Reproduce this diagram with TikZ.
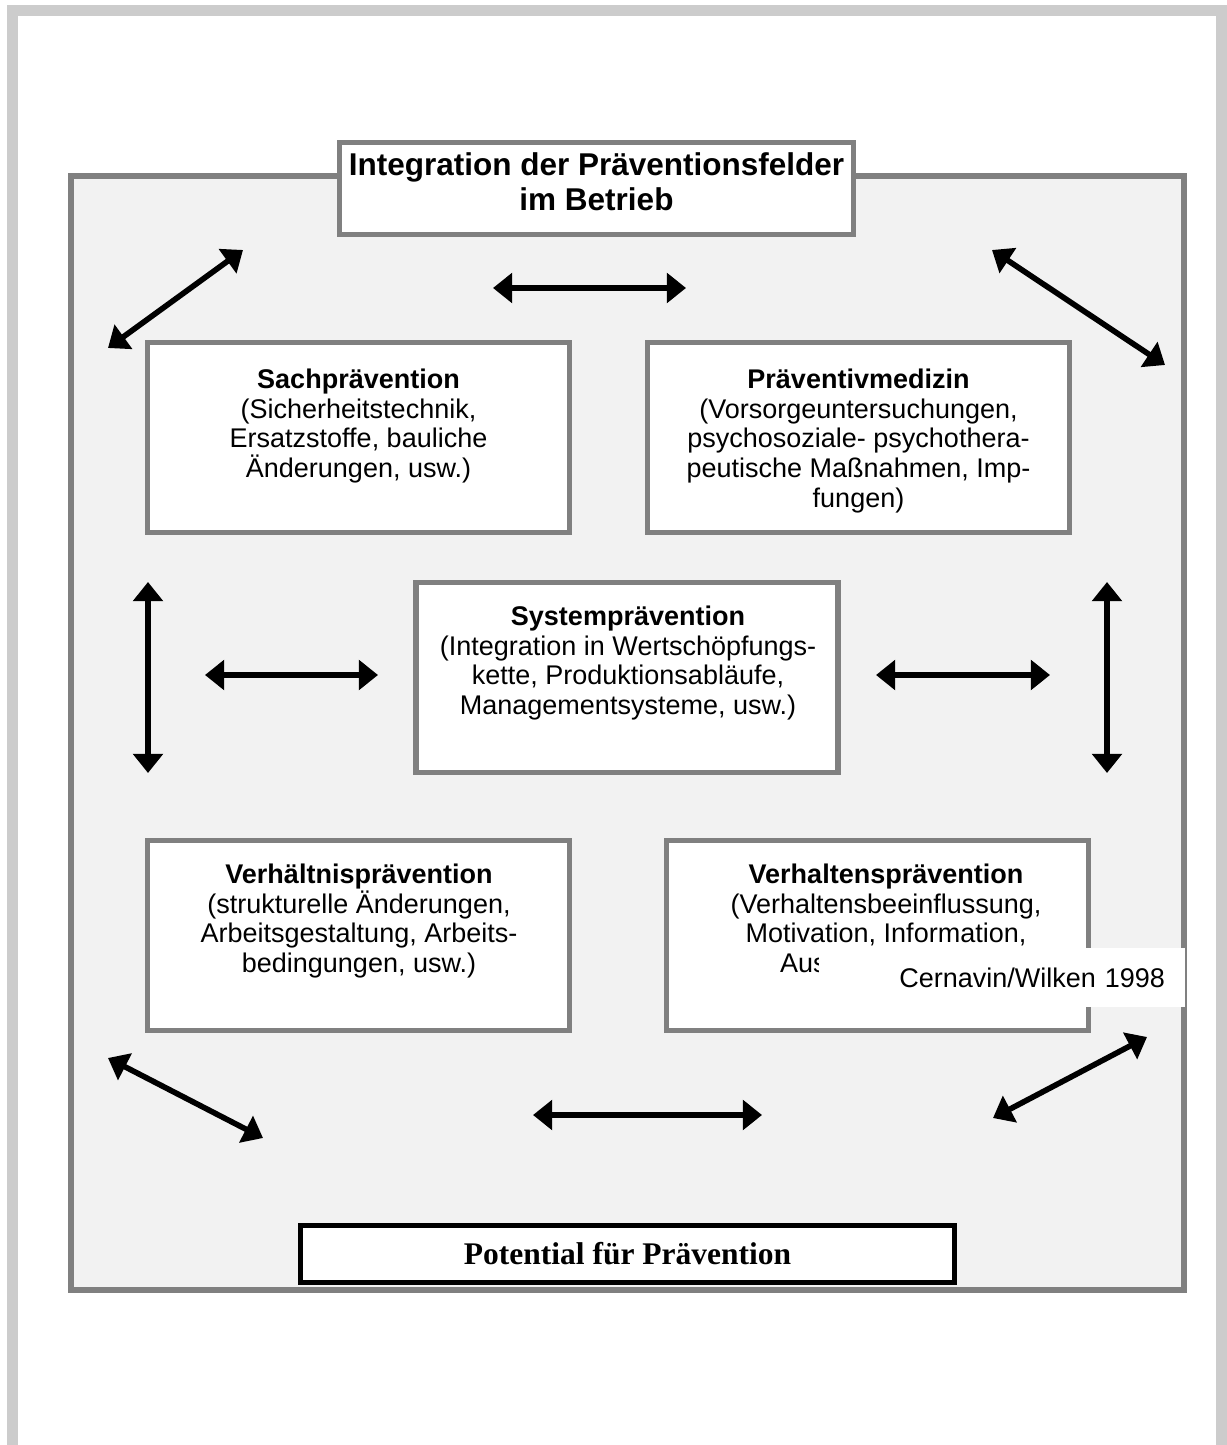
\documentclass[tikz,border=0pt]{standalone}
\usepackage{fontspec}
\setmainfont{Liberation Sans}
\newfontfamily\timesfont{Liberation Serif}
\usetikzlibrary{arrows.meta}

\definecolor{outergray}{HTML}{CCCCCC}
\definecolor{framegray}{HTML}{808080}
\definecolor{panelfill}{HTML}{F2F2F2}
\newcommand{\pxu}{0.4444pt}

\tikzset{
  fieldbox/.style={draw=framegray, line width=2.45pt, fill=white, inner sep=0pt,
    minimum width=421.6*\pxu, minimum height=189.6*\pxu},
  fieldtext/.style={align=center, inner sep=0pt, font=\fontsize{12}{13.2}\selectfont},
  dblarrow/.style={{Triangle[length=8.5pt,width=13pt]}-{Triangle[length=8.5pt,width=13pt]}, line width=2.5pt},
}

\begin{document}
\begin{tikzpicture}[x=0.4444pt,y=-0.4444pt]
          \useasboundingbox (0,0) rectangle (1226,1445);
          \draw[outergray, line width=4.9pt] (12.5,1450) -- (12.5,10.5) -- (1221.5,10.5) -- (1221.5,1450);
          \draw[framegray, fill=panelfill, line width=2.5pt] (71,176) rectangle (1184,1290);
          %
          \node[draw=framegray, fill=white, line width=2.45pt, minimum width=513.6*\pxu, minimum height=91.6*\pxu] (title) at (596.5,188.5) {};
          \node[align=center, inner sep=0pt, font=\fontsize{14}{15.6}\selectfont\bfseries] (titletxt) at (596.5,182) {Integration der Präventionsfelder \\ im Betrieb};
          %
          \node[fieldbox] (sach) at (358.5,437.5) {};
          \node[fieldbox] (praev) at (858.5,437.5) {};
          \node[fieldbox] (system) at (627,677.5) {};
          \node[fieldbox] (verhaeltnis) at (358.5,935.5) {};
          \node[fieldbox] (verhalten) at (877.5,935.5) {};
          %
          \node[fieldtext] (sachtxt) at (358.5,426) {\textbf{Sachprävention} \\ (Sicherheitstechnik, \\ Ersatzstoffe, bauliche \\ Änderungen, usw.)};
          \node[fieldtext] (praevtxt) at (858.5,441) {\textbf{Präventivmedizin} \\ (Vorsorgeuntersuchungen, \\ psychosoziale- psychothera- \\ peutische Maßnahmen, Imp- \\ fungen)};
          \node[fieldtext] (systemtxt) at (628,663) {\textbf{Systemprävention} \\ (Integration in Wertschöpfungs- \\ kette, Produktionsabläufe, \\ Managementsysteme, usw.)};
          \node[fieldtext] (verhaeltnistxt) at (359,921) {\textbf{Verhältnisprävention} \\ (strukturelle Änderungen, \\ Arbeitsgestaltung, Arbeits- \\ bedingungen, usw.)};
          \node[fieldtext] (verhaltentxt) at (886,921) {\textbf{Verhaltensprävention} \\ (Verhaltensbeeinflussung, \\ Motivation, Information, \\ Aus\phantom{bildung, usw.)}};
          %
          \node[fill=white, inner sep=0pt, minimum width=366*\pxu, minimum height=59*\pxu, text width=326*\pxu, align=right, font=\fontsize{12}{13.2}\selectfont] (cernavin) at (1002,977.5) {Cernavin/Wilken 1998};
          %
          \coordinate (tlA) at (108,348);   \coordinate (tlB) at (243,250);
          \coordinate (tcA) at (493,288);   \coordinate (tcB) at (686,288);
          \coordinate (trA) at (992,250);   \coordinate (trB) at (1165,365);
          \coordinate (lvA) at (148,582);   \coordinate (lvB) at (148,773);
          \coordinate (mlA) at (205,675);   \coordinate (mlB) at (378,675);
          \coordinate (mrA) at (876,675);   \coordinate (mrB) at (1050,675);
          \coordinate (rvA) at (1107,582);  \coordinate (rvB) at (1107,773);
          \coordinate (blA) at (108,1058);  \coordinate (blB) at (263,1138);
          \coordinate (bcA) at (533,1115);  \coordinate (bcB) at (762,1115);
          \coordinate (brA) at (993,1118);  \coordinate (brB) at (1147,1037);
          \foreach \a/\b in {tlA/tlB, tcA/tcB, trA/trB, lvA/lvB, mlA/mlB, mrA/mrB, rvA/rvB, blA/blB, bcA/bcB, brA/brB}
            \draw[dblarrow] (\a) -- (\b);
          %
          \node[draw=black, fill=white, line width=2.4pt, minimum width=654*\pxu, minimum height=57*\pxu, font=\timesfont\fontsize{14}{16}\selectfont\bfseries] (potential) at (627.5,1254) {Potential für Prävention};
        \end{tikzpicture}
\end{document}
